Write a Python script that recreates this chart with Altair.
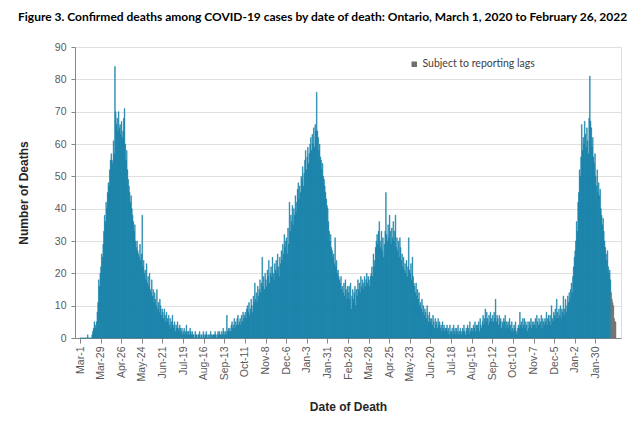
import pandas as pd
import altair as alt

# Daily confirmed deaths, Mar 1 2020 .. Feb 26 2022, one row per week (Sun..Sat)
DEATHS = [
    0, 0, 0, 0, 0, 0, 0,
    0, 0, 0, 1, 0, 0, 0,
    0, 0, 1, 2, 3, 5, 4,
    3, 5, 8, 11, 18, 16, 20,
    22, 26, 25, 29, 33, 38, 36,
    42, 40, 45, 48, 47, 52, 55,
    57, 55, 54, 61, 57, 84, 70,
    66, 68, 64, 70, 65, 66, 63,
    67, 62, 64, 68, 71, 60, 55,
    58, 52, 49, 47, 45, 42, 44,
    40, 38, 36, 33, 35, 30, 28,
    30, 27, 26, 25, 29, 24, 26,
    38, 22, 24, 20, 21, 18, 23,
    17, 19, 16, 20, 15, 14, 18,
    13, 15, 11, 14, 12, 10, 15,
    9, 11, 8, 12, 10, 7, 9,
    8, 6, 9, 7, 5, 8, 6,
    5, 7, 4, 6, 3, 5, 7,
    4, 3, 5, 2, 4, 3, 5,
    3, 2, 4, 3, 2, 3, 1,
    2, 3, 1, 2, 4, 1, 2,
    2, 1, 3, 2, 1, 2, 1,
    1, 0, 2, 1, 1, 0, 1,
    1, 2, 0, 1, 1, 0, 2,
    1, 0, 1, 2, 1, 0, 1,
    0, 1, 2, 1, 0, 1, 1,
    1, 2, 1, 0, 1, 2, 1,
    2, 1, 1, 2, 1, 3, 2,
    1, 2, 1, 7, 2, 3, 2,
    3, 2, 4, 5, 3, 4, 6,
    3, 5, 4, 6, 7, 4, 5,
    6, 4, 7, 5, 8, 6, 7,
    8, 6, 9, 10, 8, 11, 7,
    9, 12, 10, 8, 13, 11, 17,
    12, 14, 11, 16, 13, 15, 18,
    14, 17, 25, 16, 19, 15, 20,
    18, 16, 21, 19, 24, 17, 20,
    22, 19, 25, 20, 18, 23, 21,
    24, 20, 26, 22, 19, 25, 23,
    27, 24, 29, 26, 32, 28, 30,
    31, 26, 34, 29, 42, 33, 38,
    36, 41, 35, 40, 38, 44, 39,
    42, 46, 48, 43, 47, 45, 50,
    49, 53, 47, 51, 55, 58, 52,
    56, 59, 54, 57, 60, 62, 58,
    63, 60, 65, 59, 66, 64, 76,
    64, 62, 58, 60, 56, 55, 52,
    54, 50, 49, 47, 45, 43, 41,
    40, 36, 33, 30, 32, 28, 27,
    25, 26, 23, 31, 22, 24, 20,
    21, 19, 18, 17, 19, 15, 16,
    14, 17, 13, 18, 15, 12, 16,
    14, 16, 12, 17, 9, 13, 15,
    12, 14, 16, 10, 15, 13, 18,
    15, 17, 14, 19, 16, 18, 15,
    17, 19, 16, 18, 20, 17, 19,
    18, 16, 19, 20, 22, 19, 26,
    22, 24, 28, 30, 32, 29, 33,
    36, 30, 28, 33, 27, 31, 25,
    29, 33, 45, 32, 30, 35, 31,
    38, 33, 29, 34, 31, 36, 30,
    33, 38, 28, 31, 27, 30, 25,
    31, 28, 24, 26, 22, 25, 21,
    23, 20, 24, 19, 22, 31, 21,
    20, 23, 18, 25, 19, 17, 16,
    14, 17, 13, 15, 12, 14, 10,
    11, 9, 12, 8, 10, 7, 9,
    8, 6, 10, 7, 5, 8, 6,
    5, 6, 4, 7, 5, 3, 6,
    4, 5, 3, 6, 4, 5, 3,
    4, 2, 5, 3, 4, 2, 3,
    3, 4, 2, 3, 1, 4, 2,
    2, 3, 1, 4, 2, 3, 1,
    3, 2, 4, 1, 2, 3, 2,
    1, 3, 2, 4, 2, 1, 3,
    2, 4, 3, 1, 5, 2, 3,
    3, 2, 4, 3, 5, 2, 4,
    4, 3, 5, 2, 6, 4, 3,
    5, 7, 4, 6, 9, 5, 8,
    6, 4, 7, 5, 8, 6, 5,
    7, 5, 8, 6, 12, 5, 7,
    6, 4, 7, 5, 6, 3, 5,
    4, 6, 5, 7, 3, 5, 4,
    5, 3, 6, 4, 2, 5, 3,
    2, 4, 3, 5, 2, 1, 3,
    4, 3, 8, 4, 5, 3, 6,
    4, 6, 3, 5, 4, 2, 5,
    3, 5, 4, 6, 3, 5, 4,
    5, 4, 6, 3, 7, 5, 4,
    6, 4, 5, 7, 3, 6, 5,
    4, 6, 5, 8, 4, 6, 7,
    5, 7, 4, 10, 6, 5, 8,
    7, 9, 6, 12, 8, 6, 9,
    7, 10, 6, 9, 8, 13, 7,
    9, 12, 8, 10, 13, 11, 14,
    12, 15, 17, 14, 19, 22, 25,
    27, 30, 36, 33, 42, 45, 52,
    50, 56, 66, 58, 62, 60, 67,
    63, 59, 65, 61, 57, 68, 81,
    67, 65, 59, 62, 56, 54, 57,
    50, 47, 52, 45, 48, 44, 46,
    40, 38, 35, 37, 33, 30, 28,
    26, 24, 27, 22, 20, 21, 18,
    14, 12, 11, 10, 6, 5, 5,
]

FIRST_DAY = "2020-03-01"
LAG_FROM = "2022-02-20"
STATUS = ["Confirmed", "Subject to reporting lags"]
COLOURS = ["#1580a8", "#6e6e6e"]

TICK_DATES = [
    "2020-03-01", "2020-03-29", "2020-04-26", "2020-05-24", "2020-06-21",
    "2020-07-19", "2020-08-16", "2020-09-13", "2020-10-11", "2020-11-08",
    "2020-12-06", "2021-01-03", "2021-01-31", "2021-02-28", "2021-03-28",
    "2021-04-25", "2021-05-23", "2021-06-20", "2021-07-18", "2021-08-15",
    "2021-09-12", "2021-10-10", "2021-11-07", "2021-12-05", "2022-01-02",
    "2022-01-30",
]

days = pd.date_range(FIRST_DAY, periods=len(DEATHS), freq="D")
df = pd.DataFrame({
    "date": days.strftime("%Y-%m-%d"),
    "end": (days + pd.Timedelta(days=1)).strftime("%Y-%m-%d"),
    "deaths": DEATHS,
    "status": [STATUS[1] if d >= pd.Timestamp(LAG_FROM) else STATUS[0] for d in days],
})


def utc_dt(s):
    y, m, d = map(int, s.split("-"))
    return alt.DateTime(year=y, month=m, date=d, utc=True)


FONT = "Lato"
x_domain = [utc_dt(FIRST_DAY), utc_dt("2022-02-27")]
status_scale = alt.Scale(domain=STATUS, range=COLOURS)

chart = alt.Chart(df).mark_bar(orient="vertical", strokeWidth=0.45).encode(
    x=alt.X(
        "date:T",
        scale=alt.Scale(type="utc", domain=x_domain),
        axis=alt.Axis(
            values=[utc_dt(s) for s in TICK_DATES],
            labelExpr="utcFormat(datum.value, '%b-%-d')",
            labelAngle=-90, labelAlign="right", labelBaseline="middle",
            labelPadding=3, labelFontSize=10.5, labelColor="#595959",
            tickSize=5, tickColor="#868686", domainColor="#868686",
            grid=False, title="Date of Death", titlePadding=20,
            titleFontSize=12, titleFontWeight="bold", titleColor="#262626",
        ),
    ),
    x2="end:T",
    y=alt.Y(
        "deaths:Q",
        scale=alt.Scale(domain=[0, 90], nice=False),
        axis=alt.Axis(
            values=list(range(0, 91, 10)),
            labelFontSize=10.5, labelColor="#595959", labelPadding=5,
            tickSize=4, tickColor="#868686", domainColor="#868686",
            gridColor="#e0e0e0", title="Number of Deaths", titlePadding=24,
            titleFontSize=12, titleFontWeight="bold", titleColor="#262626",
        ),
    ),
    y2=alt.datum(0),
    color=alt.Color(
        "status:N",
        scale=status_scale,
        legend=alt.Legend(
            values=[STATUS[1]], title=None, orient="none",
            legendX=334, legendY=12, symbolType="square", symbolSize=30,
            symbolStrokeWidth=0, labelFontSize=10.5, labelColor="#404040",
            labelFont=FONT, labelOffset=3,
        ),
    ),
    stroke=alt.Stroke("status:N", scale=status_scale, legend=None),
).properties(
    width=546,
    height=291,
    autosize=alt.AutoSizeParams(type="none"),
    padding={"left": 67, "top": 39, "right": 11, "bottom": 76},
    title=alt.TitleParams(
        "Figure 3. Confirmed deaths among COVID-19 cases by date of death: Ontario, March 1, 2020 to February 26, 2022",
        anchor="start", frame="group", dx=-57, offset=18,
        font=FONT, fontSize=12, fontWeight="bold", color="#000000",
    ),
).configure_axis(
    labelFont=FONT, titleFont=FONT,
).configure_view(
    stroke=None,
).configure(background="white")

chart.save("out.html", embed_options={"renderer": "svg", "actions": False})
